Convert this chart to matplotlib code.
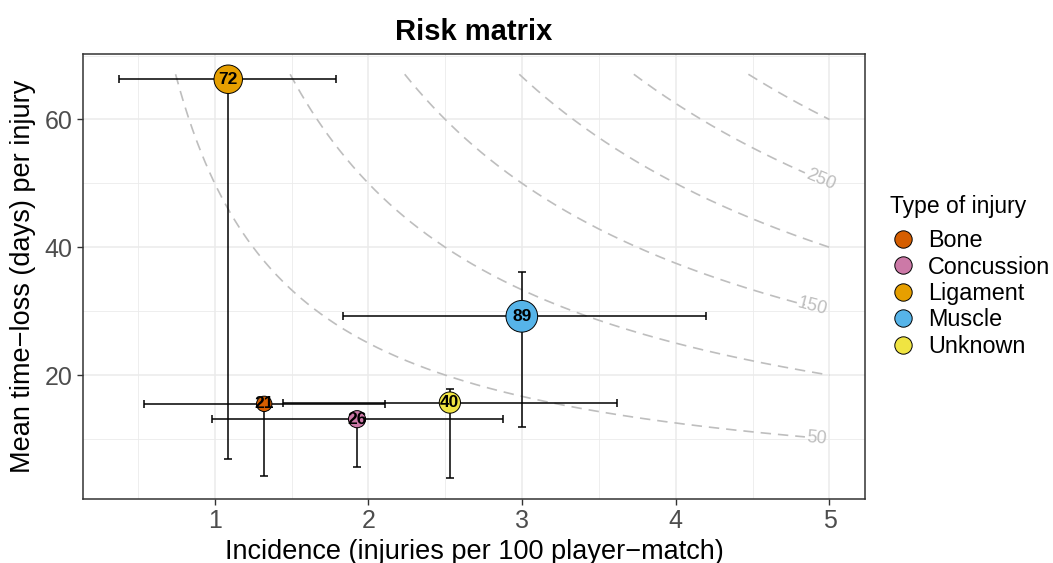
import numpy as np
import matplotlib
matplotlib.use("Agg")
import matplotlib.pyplot as plt
from matplotlib.lines import Line2D

plt.rcParams['font.family'] = ['Liberation Sans', 'DejaVu Sans']
plt.rcParams['lines.scale_dashes'] = False

# ---- data ----
types = ['Bone', 'Concussion', 'Ligament', 'Muscle', 'Unknown']
colors = ['#D55E00', '#CC79A7', '#E69F00', '#56B4E9', '#F0E442']
counts = [21, 26, 72, 89, 40]
incidence = [1.322, 1.926, 1.088, 2.998, 2.530]
inc_lo = [0.542, 0.984, 0.379, 1.835, 1.445]
inc_hi = [2.108, 2.875, 1.789, 4.194, 3.615]
timeloss = [15.5, 13.1, 66.3, 29.2, 15.7]
tl_lo = [4.26, 5.6, 6.9, 11.9, 3.9]
tl_hi = [16.3, 13.9, 67.08, 36.1, 17.8]

burden_levels = [50, 100, 150, 200, 250, 300]
labeled_levels = [50, 150, 250]
label_x = [4.92, 4.89, 4.94]
x_ticks = [1, 2, 3, 4, 5]
y_ticks = [20, 40, 60]

W, H = 1053, 563
fig = plt.figure(figsize=(W / 100, H / 100), dpi=100)
ax = fig.add_axes([83/W, (H-499)/H, 782/W, 445/H])
ax.set_xlim(0.143, 5.231)
ax.set_ylim(0.61, 70.25)

# grid
for v in np.arange(0.5, 5.3, 0.5):
    ax.axvline(v, color='#EBEBEB', lw=0.6 if v % 1 else 1.1, zorder=0)
for v in [10, 20, 30, 40, 50, 60, 70]:
    ax.axhline(v, color='#EBEBEB', lw=0.6 if v % 20 else 1.1, zorder=0)

# burden contours
ymax = 67.08
for c in burden_levels:
    x0 = c / ymax
    x1 = 4.84 if c in labeled_levels else 5.0
    xs = np.linspace(x0, x1, 300)
    ax.plot(xs, c / xs, color='#BEBEBE', lw=1.2, dashes=(7.5, 5), zorder=1)
for c, lx in zip(labeled_levels, label_x):
    ang = np.degrees(np.arctan2(-c / lx**2, 1.0))
    ax.text(lx, c / lx, str(c), color='#BEBEBE', fontsize=13, rotation=ang,
            transform_rotates_text=True, rotation_mode='anchor',
            ha='center', va='center', zorder=2)

# error bars
for i in range(len(types)):
    ax.errorbar(incidence[i], timeloss[i],
                xerr=[[incidence[i] - inc_lo[i]], [inc_hi[i] - incidence[i]]],
                yerr=[[timeloss[i] - tl_lo[i]], [tl_hi[i] - timeloss[i]]],
                fmt='none', ecolor='black', elinewidth=1.1, capsize=3.2,
                capthick=1.1, zorder=3)

# points
sizes = [520 * n / 89 for n in counts]
ax.scatter(incidence, timeloss, s=sizes, c=colors, edgecolors='black',
           linewidths=0.7, zorder=4)
for i in range(len(types)):
    ax.text(incidence[i], timeloss[i], str(counts[i]), fontsize=12.5,
            fontweight='bold', ha='center', va='center', zorder=5)

ax.set_xticks(x_ticks)
ax.set_yticks(y_ticks)
ax.tick_params(axis='both', labelsize=18, labelcolor='#4D4D4D', color='#333333',
               length=4, width=1)
for s in ax.spines.values():
    s.set_color('#333333')
    s.set_linewidth(1.1)

ax.set_xlabel('Incidence (injuries per 100 player\u2212match)', fontsize=19.5, labelpad=4)
ax.set_ylabel('Mean time\u2212loss (days) per injury', fontsize=19.5, labelpad=6)
ax.set_title('Risk matrix', fontsize=21, fontweight='bold', pad=10)

# legend
fig.text(890/W, (H-207)/H, 'Type of injury', fontsize=16.5, ha='left', va='center')
handles = [Line2D([], [], marker='o', ls='', markersize=12.5, markerfacecolor=c,
                  markeredgecolor='black', markeredgewidth=0.7) for c in colors]
leg = fig.legend(handles, types, loc='upper left',
                 bbox_to_anchor=(891.5/W, (H-229)/H), bbox_transform=fig.transFigure,
                 frameon=False, fontsize=16.8, handletextpad=0.56,
                 labelspacing=0.15, borderaxespad=0, borderpad=0, handlelength=1.0)

fig.savefig('out.png', dpi=100)
